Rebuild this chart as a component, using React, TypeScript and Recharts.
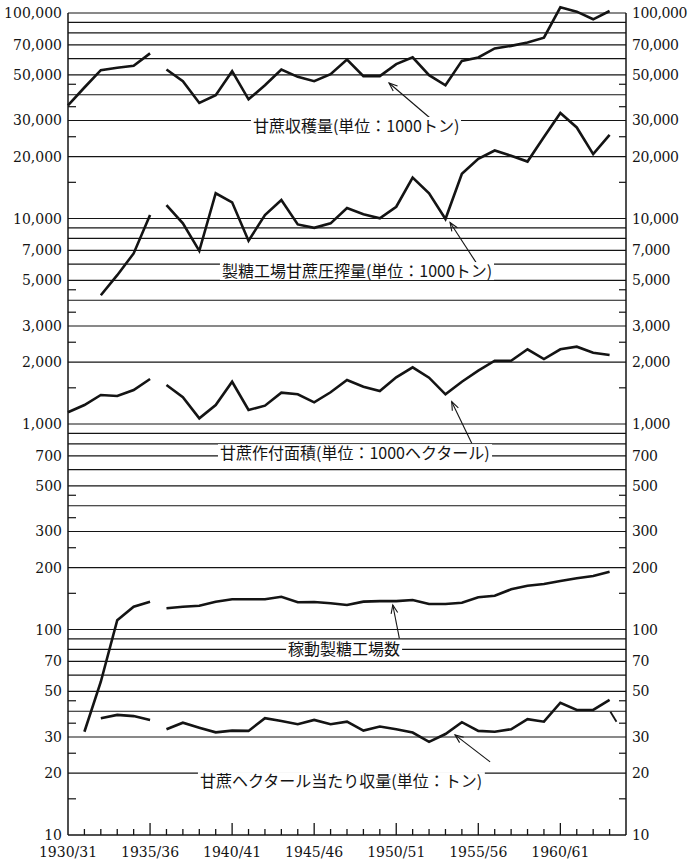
import { CartesianGrid, Line, LineChart, ReferenceDot, ReferenceLine, XAxis, YAxis } from 'recharts';

// 台湾の甘蔗・製糖統計(片対数)。1935/36 と 1936/37 の間は線を切る。
const years = [
  1930, 1931, 1932, 1933, 1934, 1935, 1936, 1937, 1938, 1939, 1940, 1941, 1942, 1943, 1944, 1945, 1946,
  1947, 1948, 1949, 1950, 1951, 1952, 1953, 1954, 1955, 1956, 1957, 1958, 1959, 1960, 1961, 1962, 1963,
];

// 甘蔗収穫量(1000トン)
const harvest = [
  35500, 43400, 52700, 54100, 55300, 63600, 53100, 46600, 36500, 39800, 52100, 38000, 44500, 53100, 48900,
  46600, 50400, 59400, 49300, 49300, 56400, 60800, 49800, 44500, 58500, 60800, 67200, 69200, 71900, 75800,
  106600, 101500, 93200, 102300,
];

// 製糖工場甘蔗圧搾量(1000トン)
const crushing = [
  null, null, 4230, 5300, 6760, 10400, 11630, 9470, 6960, 13270, 11990, 7790, 10400, 12300, 9360, 9010,
  9470, 11250, 10480, 10020, 11410, 15810, 13270, 9940, 16490, 19510, 21420, 20180, 18920, 24900, 32600,
  27740, 20570, 25550,
];

// 甘蔗作付面積(1000ヘクタール)
const area = [
  1140, 1237, 1384, 1369, 1464, 1656, 1548, 1349, 1066, 1237, 1606, 1170, 1228, 1420, 1395, 1275, 1427,
  1637, 1519, 1448, 1688, 1888, 1680, 1395, 1606, 1817, 2032, 2032, 2310, 2071, 2310, 2378, 2223, 2167,
];

// 稼動製糖工場数
const factories = [
  null, 31.8, 55.7, 111, 129, 136.6, 126.8, 129, 130.6, 136.6, 140.3, 140.3, 140.3, 144.4, 135.7, 136,
  134.2, 131.6, 136.6, 137.4, 137.4, 139.2, 133.1, 133.1, 135, 143.4, 146, 156.9, 163.4, 166.5, 172.2,
  177.5, 182.1, 191.1,
];

// 甘蔗ヘクタール当たり収量(トン)
const yieldPerHa = [
  null, null, 37, 38.4, 37.9, 36.3, 32.7, 35.2, 33.3, 31.6, 32.2, 32.1, 37, 35.9, 34.6, 36.3, 34.6, 35.6,
  32.2, 33.7, 32.7, 31.5, 28.4, 31, 35.4, 32.1, 31.8, 32.7, 36.6, 35.6, 44, 40.6, 40.6, 45.4,
];
// 右端で切れている短い線
const yieldTail = [
  { year: 1963.05, value: 39.8 },
  { year: 1963.42, value: 35.6 },
];

const gapAfter = 1935;

const majorTicks = [
  10, 20, 30, 50, 70, 100, 200, 300, 500, 700, 1000, 2000, 3000, 5000, 7000, 10000, 20000, 30000, 50000,
  70000, 100000,
];
const minorTicks = [15, 25, 35, 45, 150, 250, 350, 450, 1500, 2500, 3500, 4500, 15000, 25000, 35000, 45000];
const gridValues = [
  20, 30, 40, 50, 60, 70, 80, 90, 100, 200, 300, 400, 500, 600, 700, 800, 900, 1000, 2000, 3000, 4000,
  5000, 6000, 7000, 8000, 9000, 10000, 20000, 30000, 40000, 50000, 60000, 70000, 80000, 90000, 100000,
];

const labels = [
  { text: '甘蔗収穫量(単位：1000トン)', year: 1941.27, value: 28200 },
  { text: '製糖工場甘蔗圧搾量(単位：1000トン)', year: 1939.38, value: 5550 },
  { text: '甘蔗作付面積(単位：1000ヘクタール)', year: 1939.26, value: 722 },
  { text: '稼動製糖工場数', year: 1943.41, value: 80.4 },
  { text: '甘蔗ヘクタール当たり収量(単位：トン)', year: 1938.04, value: 18.3 },
];

const arrows = [
  { from: [1952.06, 30830], to: [1949.56, 45640] },
  { from: [1954.9, 6050], to: [1953.28, 9560] },
  { from: [1954.6, 805], to: [1953.38, 1284] },
  { from: [1950.19, 90.6], to: [1949.79, 131.6] },
  { from: [1955.72, 22.7], to: [1953.58, 30.7] },
];

const rows = years.flatMap((year, i) => {
  const row = {
    year,
    harvest: harvest[i],
    crushing: crushing[i],
    area: area[i],
    factories: factories[i],
    yield: yieldPerHa[i],
  };
  if (year !== gapAfter) return [row];
  return [row, { year: year + 0.5, harvest: null, crushing: null, area: null, factories: null, yield: null }];
});

const INK = '#141414';
const SERIF = '"DejaVu Serif", "Liberation Serif", serif';
const JP = '"Noto Sans CJK JP", "Noto Sans", sans-serif';
const JP_SIZE = 16;

const minorSet = new Set(minorTicks);
const yTicks = [...majorTicks, ...minorTicks].sort((a, b) => a - b);
const fmt = (v: number) => v.toLocaleString('en-US');

const textWidth = (s: string, fs: number) =>
  [...s].reduce(
    (w, c) => w + (/[\u3000-\u9fff\uff00-\uffef]/.test(c) ? fs : /[0-9]/.test(c) ? fs * 0.55 : fs * 0.34),
    0,
  );

function LeftTick({ x, y, payload }: any) {
  const v = payload.value;
  if (minorSet.has(v)) return <line x1={x} x2={x + 8} y1={y} y2={y} stroke={INK} strokeWidth={1.2} />;
  return (
    <text x={x - 6} y={y} dy="0.36em" textAnchor="end" fontFamily={SERIF} fontSize={14} fill={INK}>
      {fmt(v)}
    </text>
  );
}

function RightTick({ x, y, payload }: any) {
  const v = payload.value;
  if (minorSet.has(v)) return <line x1={x} x2={x - 7} y1={y} y2={y} stroke={INK} strokeWidth={1.2} />;
  return (
    <text
      x={x + 6}
      y={y}
      dy="0.36em"
      textAnchor="start"
      fontFamily={SERIF}
      fontSize={14}
      letterSpacing={-0.4}
      fill={INK}
    >
      {fmt(v)}
    </text>
  );
}

function YearTick({ x, y, payload }: any) {
  const yr = payload.value as number;
  const major = (yr - 1930) % 5 === 0;
  return (
    <g>
      {yr > 1930 && <line x1={x} x2={x} y1={y} y2={y - (major ? 12 : 6)} stroke={INK} strokeWidth={1.3} />}
      {major && (
        <text x={x} y={y + 22} textAnchor="middle" fontFamily={SERIF} fontSize={14} fill={INK}>
          {`${yr}/${String((yr + 1) % 100).padStart(2, '0')}`}
        </text>
      )}
    </g>
  );
}

function Arrow({ x1, y1, x2, y2 }: any) {
  const ang = Math.atan2(y2 - y1, x2 - x1);
  const L = 9;
  const a1 = ang + Math.PI - 0.38;
  const a2 = ang + Math.PI + 0.38;
  return (
    <g>
      <line x1={x1} y1={y1} x2={x2} y2={y2} stroke={INK} strokeWidth={1.1} />
      <polyline
        points={`${x2 + L * Math.cos(a1)},${y2 + L * Math.sin(a1)} ${x2},${y2} ${x2 + L * Math.cos(a2)},${y2 + L * Math.sin(a2)}`}
        fill="none"
        stroke={INK}
        strokeWidth={1.1}
      />
    </g>
  );
}

const labelShape = (text: string) => (p: any) => {
  const w = textWidth(text, JP_SIZE);
  return (
    <g>
      <rect x={p.cx - 2} y={p.cy - 9} width={w + 4} height={18} fill="#fff" />
      <text x={p.cx} y={p.cy} dy="0.36em" fontFamily={JP} fontSize={JP_SIZE} fill={INK}>
        {text}
      </text>
    </g>
  );
};

const lineProps = {
  type: 'linear' as const,
  stroke: INK,
  strokeWidth: 2.6,
  dot: false,
  activeDot: false,
  isAnimationActive: false,
  strokeLinejoin: 'miter' as const,
};

export default function App() {
  return (
    <div style={{ position: 'absolute', left: 0, top: 0, width: 690, height: 861, background: '#fff' }}>
      <LineChart width={690} height={861} data={rows} margin={{ top: 4.5, right: 0, bottom: 0, left: 0 }}>
        <CartesianGrid vertical={false} horizontalValues={gridValues} stroke={INK} strokeWidth={1.1} />
        <XAxis
          dataKey="year"
          type="number"
          domain={[1930, 1964]}
          ticks={years}
          interval={0}
          height={26}
          tickSize={0}
          tickMargin={0}
          tickLine={false}
          axisLine={{ stroke: INK, strokeWidth: 1.5 }}
          tick={<YearTick />}
        />
        <YAxis
          scale="log"
          domain={[10, 110000]}
          allowDataOverflow
          ticks={yTicks}
          interval={0}
          width={68}
          tickSize={0}
          tickMargin={0}
          tickLine={false}
          axisLine={false}
          tick={<LeftTick />}
        />
        <YAxis
          yAxisId="r"
          orientation="right"
          scale="log"
          domain={[10, 110000]}
          allowDataOverflow
          ticks={yTicks}
          interval={0}
          width={64}
          tickSize={0}
          tickMargin={0}
          tickLine={false}
          axisLine={false}
          tick={<RightTick />}
        />

        <ReferenceLine segment={[{ x: 1930, y: 10 }, { x: 1930, y: 100000 }]} stroke={INK} strokeWidth={1.5} />
        <ReferenceLine segment={[{ x: 1964, y: 10 }, { x: 1964, y: 100000 }]} stroke={INK} strokeWidth={1.5} />

        {labels.map((l) => (
          <ReferenceDot key={l.text} x={l.year} y={l.value} r={1} shape={labelShape(l.text)} />
        ))}

        <Line dataKey="harvest" {...lineProps} />
        <Line dataKey="crushing" {...lineProps} />
        <Line dataKey="area" {...lineProps} />
        <Line dataKey="factories" {...lineProps} />
        <Line dataKey="yield" {...lineProps} />
        <Line yAxisId="r" data={yieldTail} dataKey="value" {...lineProps} strokeWidth={1.8} />

        {arrows.map((a, i) => (
          <ReferenceLine
            key={i}
            segment={[
              { x: a.from[0], y: a.from[1] },
              { x: a.to[0], y: a.to[1] },
            ]}
            shape={(p: any) => <Arrow {...p} />}
          />
        ))}
      </LineChart>
    </div>
  );
}
